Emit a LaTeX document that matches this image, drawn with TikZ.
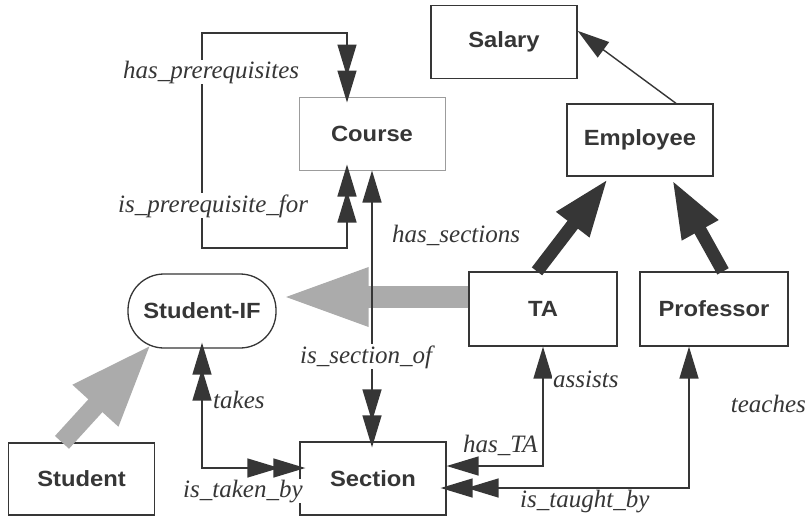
\documentclass[tikz,border=0pt]{standalone}
\usepackage{fontspec}
\newfontfamily\boxfont[FakeStretch=1.08]{Liberation Sans}
\newfontfamily\labfont{Liberation Serif}
\usetikzlibrary{arrows.meta}
\definecolor{ink}{HTML}{363636}
\definecolor{shade}{HTML}{ABABAB}
\definecolor{lightbox}{HTML}{9C9C9C}
\begin{document}
\begin{tikzpicture}[x=1pt,y=-1pt,
  box/.style={draw=ink, line width=1.3pt, minimum width=146pt, minimum height=73pt,
    inner sep=0pt, text=ink, font=\boxfont\bfseries\fontsize{22}{26}\selectfont},
  lab/.style={anchor=base west, inner sep=1pt, fill=white, text=ink,
    font=\labfont\itshape\fontsize{25}{29}\selectfont},
  conn/.style={draw=ink, line width=1.4pt},
  aS/.style={-{Triangle[length=32pt,width=19pt]}},
  aSS/.style={{Triangle[length=32pt,width=19pt]}-{Triangle[length=32pt,width=19pt]}},
  aDD/.style={{Triangle[length=32pt,width=19pt,sep=-6pt]Triangle[length=32pt,width=19pt,sep=-6pt]}-{Triangle[length=32pt,width=19pt,sep=-6pt]Triangle[length=32pt,width=19pt,sep=-6pt]}},
  aSD/.style={{Triangle[length=32pt,width=19pt]}-{Triangle[length=32pt,width=19pt,sep=-6pt]Triangle[length=32pt,width=19pt,sep=-6pt]}},
  grayarrow/.style={draw=shade, line width=#1},
  thickarrow/.style={draw=ink, line width=13pt, -{Triangle[length=58pt,width=38pt]}}
]
\useasboundingbox[fill=white] (0,0) rectangle (810,517);

% nodes
\node[box] (salary) at (504,42) {Salary};
\node[box, draw=lightbox, line width=1pt] (course) at (372,133.5) {Course};
\node[box, minimum height=72pt] (employee) at (640,140) {Employee};
\node[box, minimum width=148pt, minimum height=74pt] (ta) at (543,309) {TA};
\node[box, minimum width=148pt, minimum height=74pt] (prof) at (714,309) {Professor};
\node[box, minimum width=148pt, minimum height=74pt, rounded corners=36pt] (sif) at (202,311) {Student-IF};
\node[box, minimum height=72pt] (student) at (81.5,479) {Student};
\node[box] (section) at (373,478.5) {Section};

% gray inheritance arrows
\draw[grayarrow=22pt, -{Triangle[length=90pt,width=52pt]}] ([yshift=12pt]ta.west) -- ([xshift=2pt,yshift=14pt]sif.east);
\draw[grayarrow=19pt, -{Triangle[length=84pt,width=56pt]}] ([xshift=-19.5pt]student.north) -- ([xshift=-50pt,yshift=5pt]sif.south);

% thick black arrows
\draw[thickarrow] ([xshift=-6pt]ta.north) -- ([xshift=-32pt,yshift=-2pt]employee.south);
\draw[thickarrow] ([xshift=9pt]prof.north) -- ([xshift=32pt,yshift=-3pt]employee.south);

% thin connectors
\coordinate (lt) at (202,33);
\coordinate (lb) at (202,248);
\draw[conn, aDD] ([xshift=-25pt]course.north) |- (lt) -- (lb) -| ([xshift=-25pt]course.south);
\draw[conn, aSD] (course.south) -- (course.south |- section.north);

\coordinate (tk) at (202,468);
\draw[conn, aDD] (sif.south) -- (tk) -- (tk -| section.west);

\coordinate (ta1) at (543,466);
\draw[conn, aSS] (ta.south) -- (ta1) -- (ta1 -| section.east);

\coordinate (pr1) at (689,488);
\draw[conn, aSD] (pr1 |- prof.south) -- (pr1) -- (pr1 -| section.east);

\draw[conn, aS] ([xshift=36pt]employee.north) -- ([yshift=-26pt]salary.north east);

% labels
\node[lab] (l1) at (122,78) {has\_prerequisites};
\node[lab] (l2) at (117,212) {is\_prerequisite\_for};
\node[lab] (l3) at (391,242) {has\_sections};
\node[lab] (l4) at (299,363) {is\_section\_of};
\node[lab] (l5) at (212,408) {takes};
\node[lab] (l6) at (182,497) {is\_taken\_by};
\node[lab] (l7) at (552,387) {assists};
\node[lab, anchor=base east] (l8) at (807,412) {teaches};
\node[lab] (l9) at (462,452) {has\_TA};
\node[lab] (l10) at (519,507) {is\_taught\_by};
\end{tikzpicture}
\end{document}
